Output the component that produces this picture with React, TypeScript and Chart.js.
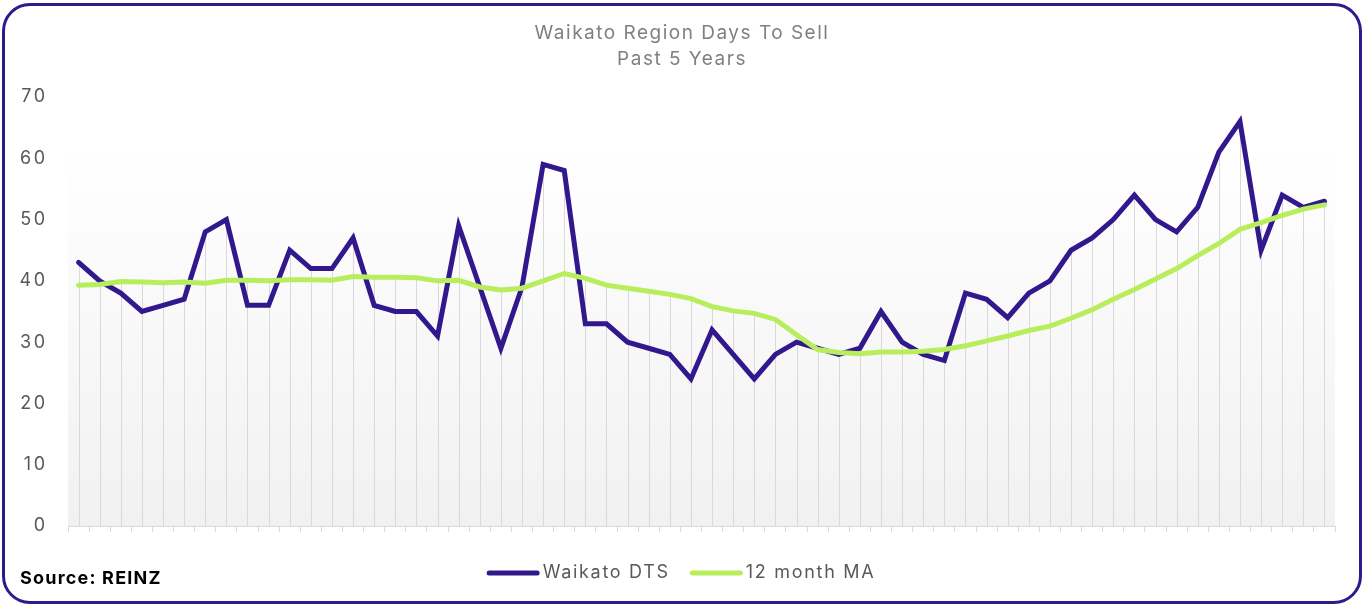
import React, { useEffect, useRef } from "react";
import { Chart, registerables } from "chart.js";

Chart.register(...registerables);

const months = [
  "Sep-19", "Oct-19", "Nov-19", "Dec-19", "Jan-20", "Feb-20", "Mar-20", "Apr-20", "May-20", "Jun-20", "Jul-20", "Aug-20",
  "Sep-20", "Oct-20", "Nov-20", "Dec-20", "Jan-21", "Feb-21", "Mar-21", "Apr-21", "May-21", "Jun-21", "Jul-21", "Aug-21",
  "Sep-21", "Oct-21", "Nov-21", "Dec-21", "Jan-22", "Feb-22", "Mar-22", "Apr-22", "May-22", "Jun-22", "Jul-22", "Aug-22",
  "Sep-22", "Oct-22", "Nov-22", "Dec-22", "Jan-23", "Feb-23", "Mar-23", "Apr-23", "May-23", "Jun-23", "Jul-23", "Aug-23",
  "Sep-23", "Oct-23", "Nov-23", "Dec-23", "Jan-24", "Feb-24", "Mar-24", "Apr-24", "May-24", "Jun-24", "Jul-24", "Aug-24",
];

const waikatoDTS = [
  43, 40, 38, 35, 36, 37, 48, 50, 36, 36,
  45, 42, 42, 47, 36, 35, 35, 31, 49, 39,
  29, 39, 59, 58, 33, 33, 30, 29, 28, 24,
  32, 28, 24, 28, 30, 29, 28, 29, 35, 30,
  28, 27, 38, 37, 34, 38, 40, 45, 47, 50,
  54, 50, 48, 52, 61, 66, 45, 54, 52, 53,
];

const movingAvg12 = [
  39.3, 39.4, 39.9, 39.8, 39.7, 39.8, 39.6, 40.1, 40.1, 40.0,
  40.2, 40.2, 40.1, 40.7, 40.6, 40.6, 40.5, 40.0, 40.1, 39.0,
  38.5, 38.8, 40.0, 41.2, 40.4, 39.3, 38.8, 38.3, 37.8, 37.1,
  35.8, 35.1, 34.7, 33.7, 31.2, 28.8, 28.3, 28.1, 28.4, 28.4,
  28.5, 28.8, 29.4, 30.2, 31.0, 31.9, 32.6, 33.9, 35.3, 37.0,
  38.6, 40.3, 42.0, 44.1, 46.1, 48.4, 49.5, 50.7, 51.7, 52.4,
];

const yTicks = [0, 10, 20, 30, 40, 50, 60, 70];
const titleLines = ["Waikato Region Days To Sell", "Past 5 Years"];
const seriesNames = ["Waikato DTS", "12 month MA"];
const sourceNote = "Source: REINZ";
const bgStartValue = 62;

const PURPLE = "#32188d";
const GREEN = "#b8ee5c";
const FONT = "Inter, 'Open Sans', sans-serif";

const chartDecor = {
  id: "chartDecor",
  beforeDraw(chart: any) {
    const { ctx, chartArea, scales } = chart;
    ctx.save();
    ctx.fillStyle = "#ffffff";
    ctx.fillRect(0, 0, chart.width, chart.height);
    const top = scales.y.getPixelForValue(bgStartValue);
    const g = ctx.createLinearGradient(0, top, 0, chartArea.bottom);
    g.addColorStop(0, "#ffffff");
    g.addColorStop(1, "#f1f1f1");
    ctx.fillStyle = g;
    ctx.fillRect(chartArea.left, top, chartArea.right - chartArea.left, chartArea.bottom - top);
    ctx.restore();
    // letter spacing used by the axis tick labels drawn next
    (ctx as any).letterSpacing = "2.5px";
  },
  beforeDatasetsDraw(chart: any) {
    const { ctx, chartArea, scales } = chart;
    ctx.save();
    ctx.strokeStyle = "#d9d9d9";
    ctx.lineWidth = 1;
    for (let i = 0; i < waikatoDTS.length; i++) {
      const x = Math.round(scales.x.getPixelForValue(i)) + 0.5;
      const yTop = scales.y.getPixelForValue(Math.max(waikatoDTS[i], movingAvg12[i]));
      ctx.beginPath();
      ctx.moveTo(x, yTop);
      ctx.lineTo(x, chartArea.bottom);
      ctx.stroke();
    }
    ctx.restore();
  },
  afterDraw(chart: any) {
    const { ctx } = chart;
    ctx.save();
    // title
    ctx.font = `19px ${FONT}`;
    (ctx as any).letterSpacing = "1.5px";
    ctx.fillStyle = "#808080";
    ctx.textAlign = "center";
    ctx.textBaseline = "middle";
    titleLines.forEach((line, i) => {
      ctx.fillText(line, chart.width / 2 + 1, 33 + i * 26);
    });

    // legend
    ctx.font = `18px ${FONT}`;
    (ctx as any).letterSpacing = "1.7px";
    const sample = 53;
    const gapText = 3;
    const gapItems = 20;
    const colors = [PURPLE, GREEN];
    const widths = seriesNames.map((n) => ctx.measureText(n).width);
    const total = widths.reduce((a, w) => a + sample + gapText + w, 0) + gapItems * (seriesNames.length - 1);
    let x = chart.width / 2 - total / 2;
    const y = 573;
    ctx.textAlign = "left";
    seriesNames.forEach((name, i) => {
      ctx.strokeStyle = colors[i];
      ctx.lineWidth = 5;
      ctx.lineCap = "round";
      ctx.beginPath();
      ctx.moveTo(x + 2.5, y);
      ctx.lineTo(x + sample - 2.5, y);
      ctx.stroke();
      x += sample + gapText;
      ctx.fillStyle = "#595959";
      ctx.fillText(name, x, y);
      x += widths[i] + gapItems;
    });

    // source note
    ctx.font = `bold 18px ${FONT}`;
    (ctx as any).letterSpacing = "1.2px";
    ctx.fillStyle = "#000000";
    ctx.fillText(sourceNote, 20, 579);
    ctx.restore();
  },
};

export default function App() {
  const canvasRef = useRef<HTMLCanvasElement | null>(null);

  useEffect(() => {
    const canvas = canvasRef.current;
    if (!canvas) return;
    const chart = new Chart(canvas, {
      type: "line",
      data: {
        labels: months,
        datasets: [
          {
            label: seriesNames[0],
            data: waikatoDTS,
            borderColor: PURPLE,
            backgroundColor: PURPLE,
            borderWidth: 5,
            pointRadius: 0,
            tension: 0,
            fill: false,
            order: 1,
            borderCapStyle: "round",
          },
          {
            label: seriesNames[1],
            data: movingAvg12,
            borderColor: GREEN,
            backgroundColor: GREEN,
            borderWidth: 5,
            pointRadius: 0,
            tension: 0,
            fill: false,
            order: 0,
            borderCapStyle: "round",
          },
        ],
      },
      options: {
        animation: false,
        responsive: true,
        maintainAspectRatio: false,
        layout: { padding: { top: 97, right: 27, bottom: 0, left: 0 } },
        plugins: {
          legend: { display: false },
          tooltip: { enabled: false },
          title: { display: false },
        },
        scales: {
          x: {
            offset: true,
            grid: {
              display: true,
              offset: true,
              drawOnChartArea: false,
              drawTicks: true,
              tickLength: 6,
              color: "#d9d9d9",
              lineWidth: 1,
            },
            border: { display: true, color: "#d9d9d9", width: 1 },
            ticks: { display: false },
            afterFit: (s: any) => {
              s.height = 78;
            },
          },
          y: {
            min: 0,
            max: 70,
            grid: { display: false, drawTicks: false },
            border: { display: false },
            ticks: {
              padding: 20.5,
              color: "#595959",
              font: { size: 18, family: FONT },
            },
            afterBuildTicks: (s: any) => {
              s.ticks = yTicks.map((v) => ({ value: v }));
            },
            afterFit: (s: any) => {
              s.width = 68;
            },
          },
        },
      },
      plugins: [chartDecor],
    });
    return () => chart.destroy();
  }, []);

  return (
    <div style={{ position: "fixed", left: 0, top: 0, width: 1362, height: 604, background: "#fff" }}>
      <canvas ref={canvasRef} />
      <div
        style={{
          position: "absolute",
          left: 2,
          top: 3,
          width: 1360,
          height: 601,
          boxSizing: "border-box",
          border: `3px solid ${PURPLE}`,
          borderRadius: 28,
          pointerEvents: "none",
        }}
      />
    </div>
  );
}
